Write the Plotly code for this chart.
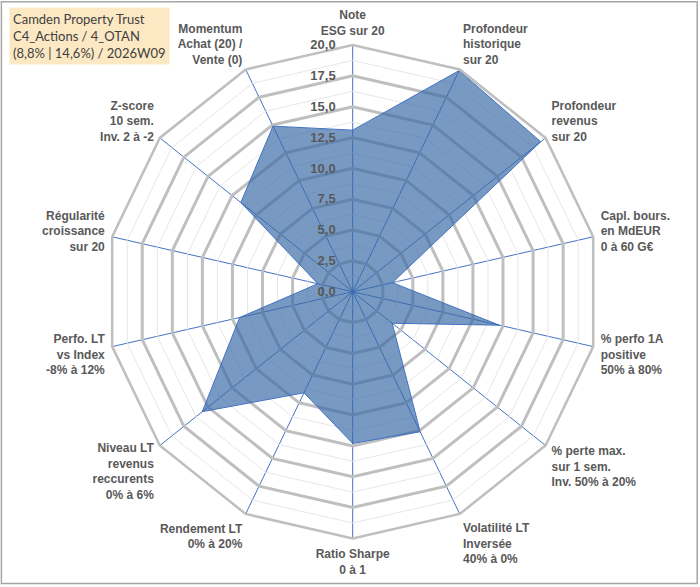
import plotly.graph_objects as go

# axes of the radar, clockwise from the top
categories = [
    "Note<br>ESG sur 20",
    "Profondeur<br>historique<br>sur 20",
    "Profondeur<br>revenus<br>sur 20",
    "Capl. bours.<br>en MdEUR<br>0 à 60 G€",
    "% perfo 1A<br>positive<br>50% à 80%",
    "% perte max.<br>sur 1 sem.<br>Inv. 50% à 20%",
    "Volatilité LT<br>Inversée<br>40% à 0%",
    "Ratio Sharpe<br>0 à 1",
    "Rendement LT<br>0% à 20%",
    "Niveau LT<br>revenus<br>reccurents<br>0% à 6%",
    "Perfo. LT<br>vs Index<br>-8% à 12%",
    "Régularité<br>croissance<br>sur 20",
    "Z-score<br>10 sem.<br>Inv. 2 à -2",
    "Momentum<br>Achat (20) /<br>Vente (0)",
]
scores = [13.1, 19.9, 19.5, 3.3, 12.2, 4.1, 12.6, 12.3, 9.1, 15.6, 9.4, 2.9, 11.6, 14.9]

major_ticks = [0, 2.5, 5, 7.5, 10, 12.5, 15, 17.5, 20]
major_labels = ["0,0", "2,5", "5,0", "7,5", "10,0", "12,5", "15,0", "17,5", "20,0"]
minor_rings = [1.25, 3.75, 6.25, 8.75, 11.25, 13.75, 16.25, 18.75]

title_lines = ["Camden Property Trust", "C4_Actions / 4_OTAN", "(8,8% | 14,6%) / 2026W09"]

closed_theta = categories + categories[:1]

fig = go.Figure()

# light minor rings between the gray major ones
for rv in minor_rings:
    fig.add_trace(go.Scatterpolar(
        r=[rv] * len(closed_theta), theta=closed_theta, mode="lines",
        line=dict(color="#E6E6E6", width=1), hoverinfo="skip", showlegend=False))

fig.add_trace(go.Scatterpolar(
    r=scores + scores[:1], theta=closed_theta,
    mode="lines", fill="toself",
    fillcolor="rgba(55,105,165,0.68)",
    line=dict(color="#4472C4", width=1),
    showlegend=False,
))

fig.update_layout(
    width=700, height=587,
    margin=dict(l=0, r=0, t=0, b=0),
    paper_bgcolor="white",
    plot_bgcolor="white",
    separators=", ",
    polar=dict(
        domain=dict(x=[0.1514, 0.8563], y=[0.0828, 0.9233]),
        bgcolor="white",
        gridshape="linear",
        angularaxis=dict(
            direction="clockwise", rotation=90,
            showline=True, linecolor="#BFBFBF", linewidth=2.5,
            gridcolor="#4472C4", gridwidth=1,
            ticks="outside", ticklen=4, tickcolor="rgba(0,0,0,0)",
            tickfont=dict(family="Liberation Sans", size=12, color="#595959", weight="bold"),
        ),
        radialaxis=dict(
            range=[0, 20], angle=90, side="counterclockwise",
            tickvals=major_ticks, ticktext=major_labels,
            showline=False, ticks="outside", ticklen=12, tickcolor="rgba(0,0,0,0)",
            gridcolor="#BFBFBF", gridwidth=2.5,
            tickangle=90,
            tickfont=dict(family="Liberation Sans", size=13, color="#595959", weight="bold"),
        ),
    ),
    shapes=[dict(type="rect", xref="paper", yref="paper", x0=0.002, x1=0.996, y0=0.006, y1=0.997,
                 line=dict(color="#A6A6A6", width=1.5))],
    annotations=[dict(
        xref="paper", yref="paper", x=0.013, y=0.988, xanchor="left", yanchor="top",
        text="<br>".join(title_lines), align="left", showarrow=False,
        bgcolor="#FCE8C3", borderpad=3,
        font=dict(family="Lato", size=13, color="#404040"),
    )],
)

fig.write_html("out.html", config={"displayModeBar": False},
               post_script="document.body.style.margin='0';")
